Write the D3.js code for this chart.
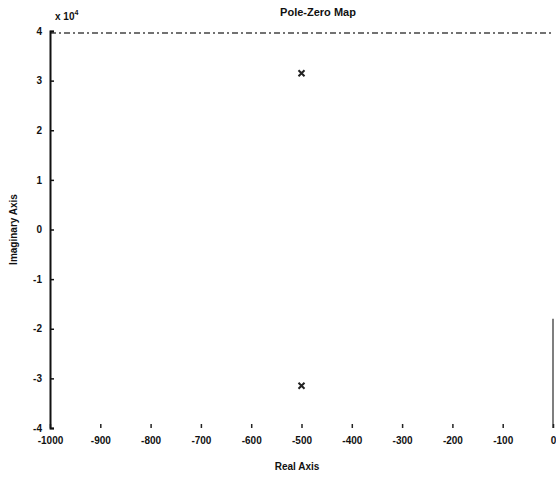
<!DOCTYPE html>
<html lang="en">
<head>
<meta charset="utf-8">
<title>Pole-Zero Map</title>
<script src="https://d3js.org/d3.v7.min.js"></script>
<style>
  body { margin: 0; background: #fff; }
  svg text { font-family: "Liberation Sans", Arial, sans-serif; font-weight: bold; fill: #111; }
</style>
</head>
<body>
<script>
// axis ticks (imaginary axis in units of 10^4)
var xTicks = [-1000, -900, -800, -700, -600, -500, -400, -300, -200, -100, 0];
var yTicks = [-4, -3, -2, -1, 0, 1, 2, 3, 4];

// poles (real, imaginary x 10^4)
var poleReal = [-500, -500];
var poleImag = [3.15, -3.15];

var width = 556, height = 478;

var svg = d3.select("body").append("svg")
    .attr("width", width)
    .attr("height", height);

var x = d3.scaleLinear().domain([-1000, 0]).range([50, 553]);
var y = d3.scaleLinear().domain([-4, 4]).range([428, 31]);

// plain hyphen labels, like the original
var fmt = function(d) { return String(d); };

// faint frame (top and right, as on the scan)
svg.append("line")
    .attr("x1", x(-1000)).attr("x2", x(0))
    .attr("y1", y(4) + 2).attr("y2", y(4) + 2)
    .attr("stroke", "#444").attr("stroke-width", 1.5)
    .attr("stroke-dasharray", "6,3,2,3");
svg.append("line")
    .attr("x1", x(0)).attr("x2", x(0))
    .attr("y1", y(-1.8)).attr("y2", y(-4))
    .attr("stroke", "#555").attr("stroke-width", 1.5);

// bottom axis: ticks only
var xAxis = svg.append("g")
    .attr("transform", "translate(0," + y(-4) + ")")
    .call(d3.axisBottom(x).tickValues(xTicks).tickFormat(fmt).tickSize(-4).tickPadding(9));
xAxis.select(".domain").remove();
xAxis.selectAll("line").attr("stroke", "#222").attr("stroke-width", 1.5);
xAxis.selectAll("text").style("font-size", "10px").attr("fill", "#111");

// left axis
var yAxis = svg.append("g")
    .attr("transform", "translate(" + x(-1000) + ",0)")
    .call(d3.axisLeft(y).tickValues(yTicks).tickFormat(fmt).tickSize(-4).tickPadding(8));
yAxis.select(".domain").attr("stroke", "#111").attr("stroke-width", 2);
yAxis.selectAll("line").attr("stroke", "#111").attr("stroke-width", 1.5);
yAxis.selectAll("text").style("font-size", "10px").attr("fill", "#111");

// poles
var s = 3;
svg.append("g").selectAll("path")
    .data(poleReal)
    .enter()
    .append("path")
    .attr("d", function(d, i) {
        var cx = x(d), cy = y(poleImag[i]);
        return "M" + (cx - s) + "," + (cy - s) + "L" + (cx + s) + "," + (cy + s) +
               "M" + (cx - s) + "," + (cy + s) + "L" + (cx + s) + "," + (cy - s);
    })
    .attr("stroke", "#222")
    .attr("stroke-width", 2)
    .attr("fill", "none");

// labels
svg.append("text")
    .attr("x", 318).attr("y", 16)
    .attr("text-anchor", "middle")
    .style("font-size", "11px")
    .text("Pole-Zero Map");

svg.append("text")
    .attr("x", 297).attr("y", 470)
    .attr("text-anchor", "middle")
    .style("font-size", "10px")
    .text("Real Axis");

svg.append("text")
    .attr("transform", "translate(17," + y(0) + ") rotate(-90)")
    .attr("text-anchor", "middle")
    .style("font-size", "10px")
    .text("Imaginary Axis");

var mult = svg.append("text")
    .attr("x", 55).attr("y", 20)
    .style("font-size", "10px");
mult.append("tspan").text("x 10");
mult.append("tspan").attr("dy", -5).style("font-size", "7px").text("4");
</script>
</body>
</html>
